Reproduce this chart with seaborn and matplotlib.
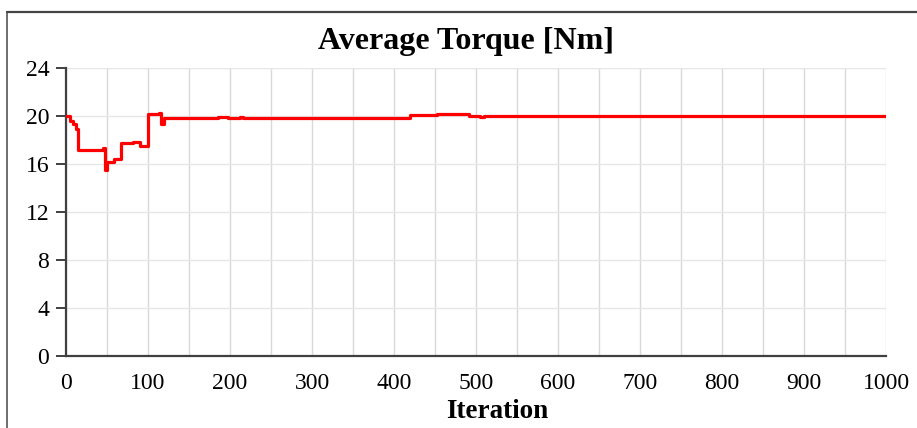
import matplotlib
matplotlib.use("Agg")
import matplotlib.pyplot as plt
import seaborn as sns
import pandas as pd
from matplotlib.lines import Line2D
from matplotlib.ticker import MultipleLocator

# Data (step-wise breakpoints)
iterations = [0, 5, 8, 12, 15, 45, 48, 50, 59, 67, 82, 90, 100, 114, 116, 119,
              185, 197, 212, 216, 248, 420, 453, 488, 492, 505, 510, 525, 1000]
torque = [20.0, 19.6, 19.3, 18.9, 17.2, 17.3, 15.5, 16.2, 16.4, 17.75, 17.8, 17.5,
          20.15, 20.25, 19.3, 19.85, 19.9, 19.85, 19.95, 19.85, 19.8, 20.1, 20.15,
          20.2, 20.0, 19.95, 20.0, 20.0, 20.0]
x_ticks = [0, 100, 200, 300, 400, 500, 600, 700, 800, 900, 1000]
y_ticks = [0, 4, 8, 12, 16, 20, 24]

df = pd.DataFrame({"Iteration": iterations, "Torque": torque})

sns.set_theme(style="white")
plt.rcParams["font.family"] = ["Liberation Serif", "DejaVu Serif"]

fig = plt.figure(figsize=(9.17, 4.28), dpi=100)
ax = fig.add_axes([66 / 917, 1 - 356 / 428, (886 - 66) / 917, (356 - 68) / 428])

sns.lineplot(data=df, x="Iteration", y="Torque", ax=ax, color="#ff0000",
             linewidth=2.3, drawstyle="steps-post", zorder=3)

ax.set_xlim(0, 1000)
ax.set_ylim(0, 24)
ax.set_xticks(x_ticks)
ax.set_yticks(y_ticks)
ax.xaxis.set_minor_locator(MultipleLocator(50))
ax.grid(True, which="both", axis="x", color="#d9d9d9", linewidth=1.0)
ax.grid(True, which="major", axis="y", color="#e6e6e6", linewidth=1.0)
ax.set_axisbelow(True)

for s in ["top", "right"]:
    ax.spines[s].set_visible(False)
for s in ["left", "bottom"]:
    ax.spines[s].set_color("#404040")
    ax.spines[s].set_linewidth(1.6)

ax.tick_params(axis="y", which="major", direction="out", length=7, width=1.4,
               color="#404040", labelsize=17, pad=5, left=True)
ax.tick_params(axis="x", which="both", length=0, labelsize=17, pad=12)
for lab in ax.get_xticklabels() + ax.get_yticklabels():
    lab.set_color("black")

ax.set_xlabel("Iteration", fontsize=19.5, fontweight="bold", labelpad=0, color="black")
ax.xaxis.set_label_coords(0.526, -0.148)
ax.set_ylabel("")
ax.set_title("Average Torque [Nm]", fontsize=23, fontweight="bold", pad=14,
             color="black", x=0.488)

# outer frame (partially visible, as in the reference)
fig.add_artist(Line2D([7 / 917, 7 / 917], [0, 1 - 12 / 428], transform=fig.transFigure,
                      color="#555555", linewidth=1.2))
fig.add_artist(Line2D([7 / 917, 1], [1 - 12 / 428, 1 - 12 / 428], transform=fig.transFigure,
                      color="#444444", linewidth=1.6))

fig.savefig("out.png", dpi=100)
